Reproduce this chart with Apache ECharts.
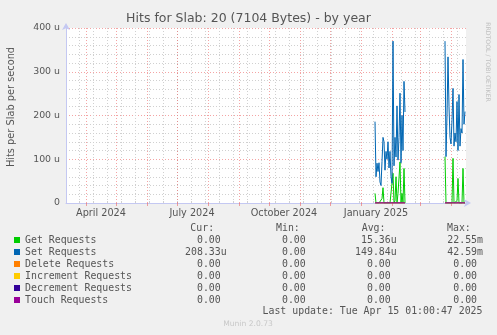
<!DOCTYPE html>
<html>
<head>
<meta charset="utf-8">
<script src="https://cdn.jsdelivr.net/npm/echarts@6/dist/echarts.min.js"></script>
<style>
html, body { margin: 0; padding: 0; background: #f0f0f0; }
#chart { width: 497px; height: 335px; }
</style>
</head>
<body>
<div id="chart"></div>
<script>
const seriesNames = ['Get Requests', 'Set Requests', 'Delete Requests', 'Increment Requests', 'Decrement Requests', 'Touch Requests'];
const seriesColors = ['#00cc00', '#0066b3', '#ff8000', '#ffcc00', '#330099', '#990099'];

// daily samples (u = 1e-6 hits/s), first burst from 2025-01-15
const burst1Start = '2025-01-15';
const getBurst1 = [22, 0, 0, 0, 0, 0, 0, 10, 35, 0, 0, 0, 0, 0, 0, 0, 0, 0, 68, 0, 5, 60, 0, 22, 18, 94, 0, 22, 0, 79, 0];
const setBurst1 = [186, 60, 91, 72, 92, 48, 40, 95, 150, 140, 75, 118, 100, 140, 80, 118, 60, 45, 370, 85, 150, 105, 222, 98, 150, 251, 92, 200, 120, 278, 208];
const zeroBurst1 = [0, 0, 0, 0, 0, 0, 0, 0, 0, 0, 0, 0, 0, 0, 0, 0, 0, 0, 0, 0, 0, 0, 0, 0, 0, 0, 0, 0, 0, 0, 0];

// second burst from 2025-03-26
const burst2Start = '2025-03-26';
const getBurst2 = [106, 0, 0, 0, 0, 0, 0, 0, 102, 0, 0, 0, 5, 56, 0, 0, 0, 0, 79, 0, 0];
const setBurst2 = [370, 106, 200, 334, 220, 150, 135, 190, 262, 130, 160, 140, 232, 120, 248, 130, 170, 160, 328, 180, 209];
const zeroBurst2 = [0, 0, 0, 0, 0, 0, 0, 0, 0, 0, 0, 0, 0, 0, 0, 0, 0, 0, 0, 0, 0];

const xStart = '2024-03-12';
const xEnd = '2025-04-16';
const quarterLabels = ['April 2024', 'July 2024', 'October 2024', 'January 2025'];
const quarterLabelDates = ['2024-04-16', '2024-07-16', '2024-10-16', '2025-01-16'];
const firstGridMonday = '2024-03-25';

const statHeaders = ['Cur:', 'Min:', 'Avg:', 'Max:'];
const curValues = ['0.00 ', '208.33u', '0.00 ', '0.00 ', '0.00 ', '0.00 '];
const minValues = ['0.00 ', '0.00 ', '0.00 ', '0.00 ', '0.00 ', '0.00 '];
const avgValues = ['15.36u', '149.84u', '0.00 ', '0.00 ', '0.00 ', '0.00 '];
const maxValues = ['22.55m', '42.59m', '0.00 ', '0.00 ', '0.00 ', '0.00 '];
const lastUpdate = 'Last update: Tue Apr 15 01:00:47 2025';

const DAY = 86400000;
function ts(s) { return Date.parse(s + 'T00:00:00Z'); }

function burstData(b1, b2) {
  const a = b1.map((v, i) => [ts(burst1Start) + i * DAY, v]);
  const gap = [[ts(burst1Start) + b1.length * DAY, null]];
  const b = b2.map((v, i) => [ts(burst2Start) + i * DAY, v]);
  return a.concat(gap, b);
}

// grid positions: month starts (red) and every second Monday (grey)
const monthStarts = [];
for (let y = 2024, m = 3; ts(y + '-' + String(m + 1).padStart(2, '0') + '-01') <= ts(xEnd); ) {
  monthStarts.push(ts(y + '-' + String(m + 1).padStart(2, '0') + '-01'));
  m++;
  if (m > 11) { m = 0; y++; }
}
const biweekly = [];
for (let t = ts(firstGridMonday); t <= ts(xEnd); t += 14 * DAY) biweekly.push(t);

const labelTimes = quarterLabelDates.map(ts);

const majorColor = 'rgba(235,90,90,0.55)';
const minorColor = '#d0d0d0';
const axisColor = '#c4c8f2';
const textColor = '#555';
const mono = 'DejaVu Sans Mono';

const chart = echarts.init(document.getElementById('chart'));

const seriesValues = [
  [getBurst1, getBurst2],
  [setBurst1, setBurst2],
  [zeroBurst1, zeroBurst2],
  [zeroBurst1, zeroBurst2],
  [zeroBurst1, zeroBurst2],
  [zeroBurst1, zeroBurst2]
];

const series = seriesNames.map((name, i) => ({
  name: name,
  type: 'line',
  xAxisIndex: 0,
  showSymbol: false,
  symbol: 'none',
  connectNulls: false,
  color: seriesColors[i],
  lineStyle: { width: 1, color: seriesColors[i] },
  itemStyle: { color: seriesColors[i] },
  data: burstData(seriesValues[i][0], seriesValues[i][1])
}));

const colRight = [226.7, 311.7, 396.7, 483];
const headerLeft = [190.3, 276, 361.7, 447];
const statCols = [curValues, minValues, avgValues, maxValues];
const graphic = [];
statHeaders.forEach((h, c) => {
  graphic.push({ type: 'text', x: headerLeft[c], y: 228, style: { text: h, font: '9.9px ' + mono, fill: textColor, align: 'left', textAlign: 'left', verticalAlign: 'middle', textVerticalAlign: 'middle' } });
});
statCols.forEach((col, c) => {
  col.forEach((v, r) => {
    graphic.push({ type: 'text', x: colRight[c], y: 240 + r * 12, style: { text: v, font: '9.9px ' + mono, fill: textColor, align: 'right', textAlign: 'right', verticalAlign: 'middle', textVerticalAlign: 'middle' } });
  });
});
graphic.push({ type: 'text', x: 482.5, y: 311.5, style: { text: lastUpdate, font: '9.9px ' + mono, fill: textColor, align: 'right', textAlign: 'right', verticalAlign: 'middle', textVerticalAlign: 'middle' } });
graphic.push({ type: 'text', x: 248, y: 324.5, style: { text: 'Munin 2.0.73', font: '7.6px DejaVu Sans', fill: '#c8c8c8', align: 'center', textAlign: 'center', verticalAlign: 'middle', textVerticalAlign: 'middle' } });
graphic.push({ type: 'text', x: 11.5, y: 107, rotation: Math.PI / 2, style: { text: 'Hits per Slab per second', font: '9.8px DejaVu Sans', fill: textColor, align: 'center', textAlign: 'center', verticalAlign: 'middle', textVerticalAlign: 'middle' } });
graphic.push({ type: 'text', x: 488, y: 62, rotation: -Math.PI / 2, style: { text: 'RRDTOOL / TOBI OETIKER', font: '6.2px DejaVu Sans', fill: '#c0c0c0', align: 'center', textAlign: 'center', verticalAlign: 'middle', textVerticalAlign: 'middle' } });

chart.setOption({
  backgroundColor: '#f0f0f0',
  animation: false,
  title: {
    text: 'Hits for Slab: 20 (7104 Bytes) - by year',
    left: 'center',
    top: 12,
    padding: 0,
    textStyle: { fontFamily: 'DejaVu Sans', fontSize: 12.5, fontWeight: 'normal', color: textColor }
  },
  legend: {
    orient: 'vertical',
    left: 14,
    top: 234,
    padding: 0,
    itemGap: 0,
    itemWidth: 6,
    itemHeight: 6,
    icon: 'rect',
    selectedMode: false,
    data: seriesNames,
    textStyle: { fontFamily: mono, fontSize: 9.9, color: textColor, lineHeight: 12 }
  },
  grid: {
    left: 66, top: 28, width: 400, height: 175,
    show: true, backgroundColor: '#ffffff', borderWidth: 0,
    containLabel: false
  },
  xAxis: [
    {
      type: 'value',
      min: ts(xStart),
      max: ts(xEnd),
      axisLine: { show: true, onZero: false, lineStyle: { color: axisColor, width: 1 }, symbol: ['none', 'arrow'], symbolSize: [6, 7], symbolOffset: [0, 5] },
      axisTick: { show: true, customValues: monthStarts, length: 3, inside: false, lineStyle: { color: majorColor } },
      axisLabel: {
        customValues: labelTimes,
        margin: 5,
        fontFamily: 'DejaVu Sans', fontSize: 9.7, color: textColor,
        formatter: v => quarterLabels[labelTimes.indexOf(v)] || ''
      },
      splitLine: { show: true, lineStyle: { color: majorColor, type: [1, 2], width: 1 } },
      z: 3
    },
    {
      type: 'value',
      min: ts(xStart),
      max: ts(xEnd),
      axisLine: { show: false },
      axisTick: { show: true, customValues: biweekly, length: 2, lineStyle: { color: minorColor } },
      axisLabel: { show: false },
      splitLine: { show: true, lineStyle: { color: minorColor, type: [1, 2], width: 1 } },
      z: 1
    }
  ],
  yAxis: {
    type: 'value',
    min: 0,
    max: 400,
    interval: 100,
    axisLine: { show: true, lineStyle: { color: axisColor, width: 1 }, symbol: ['none', 'arrow'], symbolSize: [6, 7], symbolOffset: [0, 5] },
    axisTick: { show: false },
    minorTick: { show: false, splitNumber: 5 },
    minorSplitLine: { show: true, lineStyle: { color: minorColor, type: [1, 2], width: 1 } },
    splitLine: { show: true, lineStyle: { color: majorColor, type: [1, 2], width: 1 } },
    axisLabel: {
      margin: 6,
      fontFamily: 'DejaVu Sans', fontSize: 9.4, color: textColor,
      formatter: v => (v === 0 ? '0' : v + ' u')
    }
  },
  graphic: graphic,
  series: series
});
</script>
</body>
</html>
